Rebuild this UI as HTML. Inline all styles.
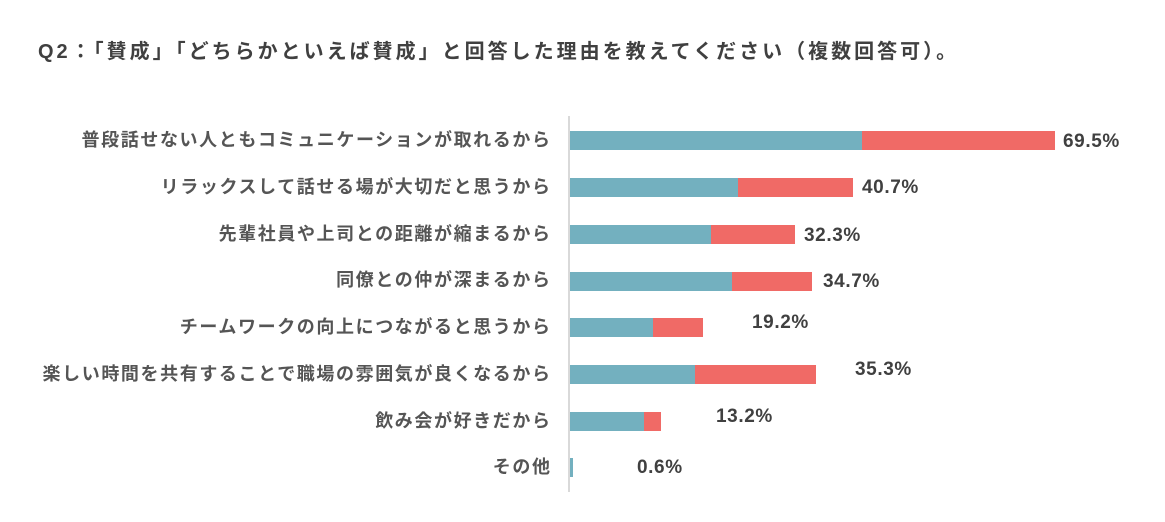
<!DOCTYPE html>
<html><head><meta charset="utf-8"><style>
body{margin:0;width:1165px;height:522px;background:#fff;position:relative;overflow:hidden;font-family:"Liberation Sans","Noto Sans CJK JP",sans-serif;}
.t{position:absolute;left:38px;top:35px;font-size:20px;font-weight:bold;color:#404040;white-space:nowrap;letter-spacing:3px}
.c{position:absolute;right:615px;font-size:18px;font-weight:bold;color:#555;white-space:nowrap;line-height:20px;letter-spacing:1.6px;margin-right:-1.6px}
.b{position:absolute;height:19px}
.bl{background:#73b0bf}.r{background:#f06a66}
.v{position:absolute;font-size:19px;font-weight:bold;color:#404040;line-height:20px;letter-spacing:0.6px}
.ax{position:absolute;left:568px;top:116px;width:2px;height:376px;background:#d9d9d9}
</style></head><body>
<div class="t">Q2：「賛成」「どちらかといえば賛成」と回答した理由を教えてください（複数回答可）。</div>
<div class="ax"></div>

<div class="c" style="top:130px">普段話せない人ともコミュニケーションが取れるから</div>
<div class="b bl" style="left:570px;top:131px;width:292px"></div><div class="b r" style="left:862px;top:131px;width:193px"></div>
<div class="v" style="left:1063px;top:132px">69.5%</div>

<div class="c" style="top:177px">リラックスして話せる場が大切だと思うから</div>
<div class="b bl" style="left:570px;top:178px;width:168px"></div><div class="b r" style="left:738px;top:178px;width:115px"></div>
<div class="v" style="left:862px;top:178px">40.7%</div>

<div class="c" style="top:224px">先輩社員や上司との距離が縮まるから</div>
<div class="b bl" style="left:570px;top:225px;width:141px"></div><div class="b r" style="left:711px;top:225px;width:84px"></div>
<div class="v" style="left:804px;top:226px">32.3%</div>

<div class="c" style="top:270px">同僚との仲が深まるから</div>
<div class="b bl" style="left:570px;top:272px;width:162px"></div><div class="b r" style="left:732px;top:272px;width:80px"></div>
<div class="v" style="left:823px;top:272px">34.7%</div>

<div class="c" style="top:317px">チームワークの向上につながると思うから</div>
<div class="b bl" style="left:570px;top:318px;width:83px"></div><div class="b r" style="left:653px;top:318px;width:50px"></div>
<div class="v" style="left:752px;top:313px">19.2%</div>

<div class="c" style="top:364px">楽しい時間を共有することで職場の雰囲気が良くなるから</div>
<div class="b bl" style="left:570px;top:365px;width:125px"></div><div class="b r" style="left:695px;top:365px;width:121px"></div>
<div class="v" style="left:855px;top:360px">35.3%</div>

<div class="c" style="top:411px">飲み会が好きだから</div>
<div class="b bl" style="left:570px;top:412px;width:74px"></div><div class="b r" style="left:644px;top:412px;width:17px"></div>
<div class="v" style="left:716px;top:407px">13.2%</div>

<div class="c" style="top:457px">その他</div>
<div class="b bl" style="left:570px;top:458px;width:3px"></div>
<div class="v" style="left:637px;top:458px">0.6%</div>
</body></html>
